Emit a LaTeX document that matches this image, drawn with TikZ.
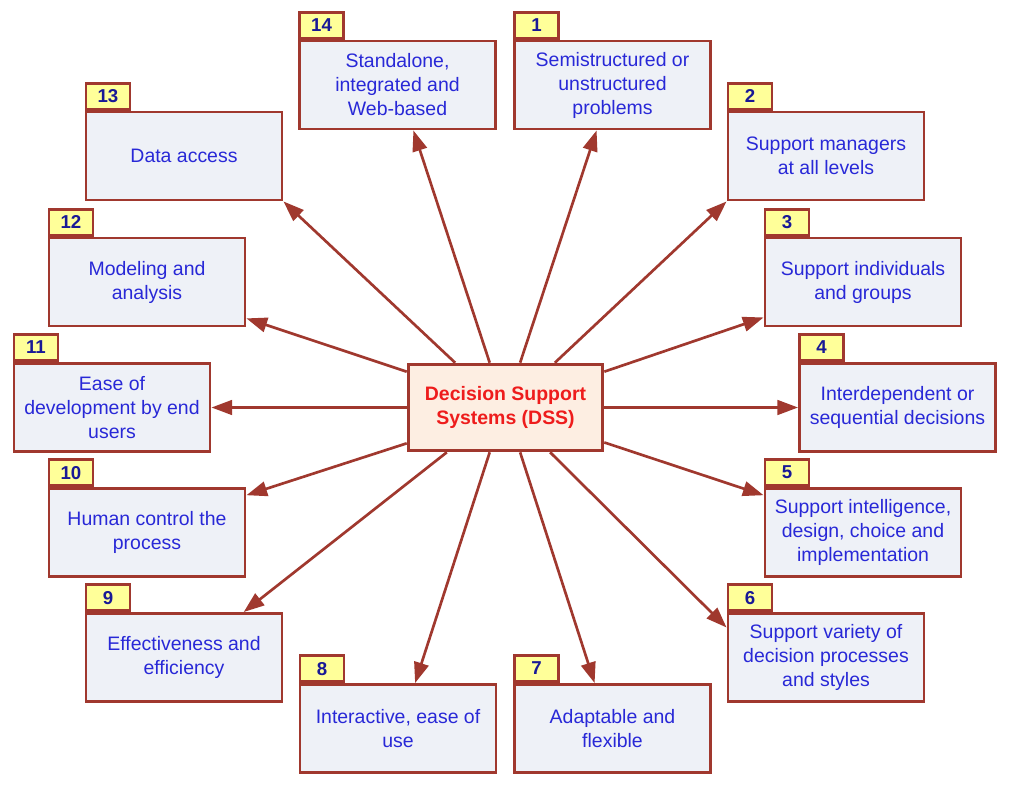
\documentclass[tikz,border=0pt]{standalone}
\usepackage{fontspec}
\setmainfont{Liberation Sans}
\usetikzlibrary{arrows.meta,calc}
\definecolor{brd}{RGB}{160,56,46}
\definecolor{boxfill}{RGB}{238,241,247}
\definecolor{tabfill}{RGB}{255,255,153}
\definecolor{txtblue}{RGB}{40,40,215}
\definecolor{numblue}{RGB}{25,25,150}
\definecolor{cfill}{RGB}{253,238,226}
\definecolor{cred}{RGB}{238,28,28}
\begin{document}
\begin{tikzpicture}[x=0.75pt,y=-0.75pt,
  box/.style={draw=brd,line width=2.2pt,fill=boxfill,minimum width=147pt,minimum height=66pt,
    inner sep=0pt,text=txtblue,align=center,font=\fontsize{14.6pt}{18pt}\selectfont},
  tabbox/.style={draw=brd,line width=2.2pt,fill=tabfill,minimum width=33pt,minimum height=19.5pt,
    inner sep=0pt,text=numblue,anchor=south west,font=\fontsize{14pt}{16pt}\selectfont\bfseries},
  cbox/.style={draw=brd,line width=2.2pt,fill=cfill,minimum width=146pt,minimum height=65pt,
    inner sep=0pt,text=cred,align=center,font=\fontsize{14.6pt}{18.5pt}\selectfont\bfseries},
  arr/.style={draw=brd,line width=2pt,-{Triangle[length=15.5pt,width=11pt]}}
]
\useasboundingbox (0,0) rectangle (1020,803);
\fill[white] (0,0) rectangle (1020,803);

\node[cbox] (c) at (505.5,407.5) {Decision Support\\Systems (DSS)};

\node[box] (b14) at (397.5,85) {Standalone,\\integrated and\\Web-based};
\node[box] (b1) at (612.5,85) {Semistructured or\\unstructured\\problems};
\node[box] (b13) at (184,156) {Data access};
\node[box] (b2) at (826,156) {Support managers\\at all levels};
\node[box] (b12) at (147,282) {Modeling and\\analysis};
\node[box] (b3) at (863,282) {Support individuals\\and groups};
\node[box] (b11) at (112,407.5) {Ease of\\development by end\\users};
\node[box] (b4) at (897.5,407.5) {Interdependent or\\sequential decisions};
\node[box] (b10) at (147,532.5) {Human control the\\process};
\node[box] (b5) at (863,532.5) {Support intelligence,\\design, choice and\\implementation};
\node[box] (b9) at (184,657.5) {Effectiveness and\\efficiency};
\node[box] (b6) at (826,657.5) {Support variety of\\decision processes\\and styles};
\node[box] (b8) at (398,728.5) {Interactive, ease of\\use};
\node[box] (b7) at (612.5,728.5) {Adaptable and\\flexible};

\foreach \n in {1,...,14}{
  \node[tabbox] (t\n) at (b\n.north west) {\n};
}

\draw[arr] ($(c.north west)!0.42!(c.north east)$) -- ($(b14.south west)!0.58!(b14.south east)$);
\draw[arr] ($(c.north west)!0.574!(c.north east)$) -- ($(b1.south west)!0.42!(b1.south east)$);
\draw[arr] ($(c.north west)!0.245!(c.north east)$) -- (b13.south east);
\draw[arr] ($(c.north west)!0.75!(c.north east)$) -- (b2.south west);
\draw[arr] ($(c.north west)!0.1!(c.south west)$) -- ($(b12.north east)!0.9!(b12.south east)$);
\draw[arr] ($(c.north east)!0.1!(c.south east)$) -- ($(b3.north west)!0.89!(b3.south west)$);
\draw[arr] (c.west) -- (b11.east);
\draw[arr] (c.east) -- (b4.west);
\draw[arr] ($(c.north west)!0.9!(c.south west)$) -- ($(b10.north east)!0.09!(b10.south east)$);
\draw[arr] ($(c.north east)!0.89!(c.south east)$) -- ($(b5.north west)!0.09!(b5.south west)$);
\draw[arr] ($(c.south west)!0.203!(c.south east)$) -- ($(b9.north west)!0.8!(b9.north east)$);
\draw[arr] ($(c.south west)!0.726!(c.south east)$) -- ($(b6.north west)!0.17!(b6.south west)$);
\draw[arr] ($(c.south west)!0.42!(c.south east)$) -- ($(b8.north west)!0.586!(b8.north east)$);
\draw[arr] ($(c.south west)!0.574!(c.south east)$) -- ($(b7.north west)!0.41!(b7.north east)$);
\end{tikzpicture}
\end{document}
